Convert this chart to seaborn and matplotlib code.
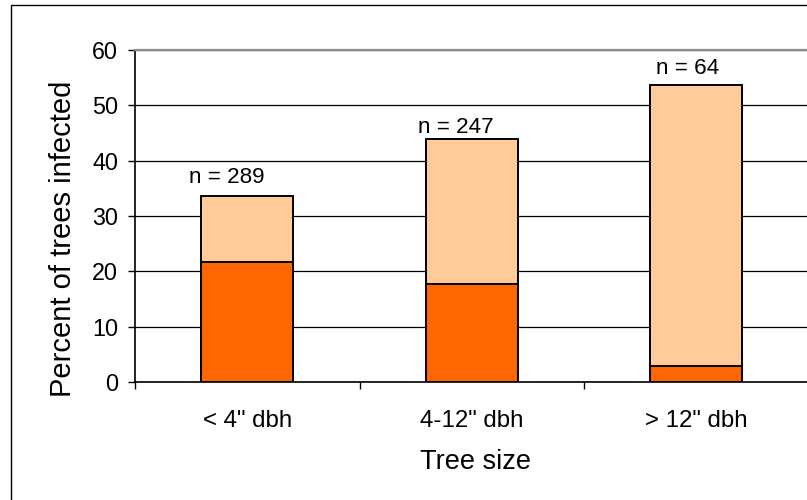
import matplotlib
matplotlib.use("Agg")
import matplotlib.pyplot as plt
from matplotlib.patches import Rectangle
import seaborn as sns
import pandas as pd

# ---- data ----
categories = ['< 4" dbh', '4-12" dbh', '> 12" dbh']
total_infected = [33.6, 43.9, 53.7]
lower_part = [21.7, 17.8, 2.9]
n_labels = ["n = 289", "n = 247", "n = 64"]
y_ticks = [0, 10, 20, 30, 40, 50, 60]

df = pd.DataFrame({"size": categories, "total": total_infected, "lower": lower_part})

sns.set_style("white")
plt.rcParams["font.family"] = ["Liberation Sans", "DejaVu Sans"]
plt.rcParams["text.color"] = "black"
plt.rcParams["axes.labelcolor"] = "black"
plt.rcParams["xtick.color"] = "black"
plt.rcParams["ytick.color"] = "black"

light = "#FFCC99"
dark = "#FF6600"

fig = plt.figure(figsize=(8.07, 5.0), dpi=100)
W, H = 807, 500
ax = fig.add_axes([135 / W, 1 - 382 / H, 673.5 / W, 332 / H])

sns.barplot(data=df, x="size", y="total", color=light, saturation=1, width=0.41,
            edgecolor="black", linewidth=1.4, errorbar=None, ax=ax, zorder=3)
sns.barplot(data=df, x="size", y="lower", color=dark, saturation=1, width=0.41,
            edgecolor="black", linewidth=1.4, errorbar=None, ax=ax, zorder=3)

ax.set_xlim(-0.5, 2.5)
ax.set_ylim(0, 60)
ax.set_yticks(y_ticks)
ax.set_yticklabels([str(v) for v in y_ticks])

ax.set_axisbelow(True)
ax.yaxis.grid(True, color="black", linewidth=0.9)
ax.xaxis.grid(False)

for side in ["left", "bottom"]:
    ax.spines[side].set_color("black")
    ax.spines[side].set_linewidth(1.2)
ax.spines["top"].set_color("#8c8c8c")
ax.spines["top"].set_linewidth(1.6)
ax.spines["right"].set_visible(False)

ax.tick_params(axis="y", which="major", direction="out", length=5, width=1,
               color="black", labelcolor="black", pad=7, labelsize=16.8, left=True)
ax.tick_params(axis="x", which="major", length=0, pad=20, labelsize=17.3,
               labelcolor="black")
ax.set_xticks([-0.5, 0.5, 1.5, 2.5], minor=True)
ax.tick_params(axis="x", which="minor", direction="out", length=5, width=1,
               color="black", bottom=True)

ax.set_xlabel("Tree size", fontsize=19.5, color="black")
ax.set_ylabel("Percent of trees infected", fontsize=21, color="black")
ax.yaxis.label.set_va("center")
ax.yaxis.set_label_coords((63 - 135) / 673.5, (382 - 239) / 332)
ax.xaxis.label.set_va("center")
ax.xaxis.set_label_coords((475 - 135) / 673.5, (382 - 462) / 332)

# n labels above bars
label_dx = [-20, -16, -9]
label_dy = [9.5, 4.5, 8]
for i, (lab, tot) in enumerate(zip(n_labels, total_infected)):
    ax.annotate(lab, xy=(i, tot), xytext=(label_dx[i] * 0.72, label_dy[i]),
                textcoords="offset points", ha="center", va="baseline",
                fontsize=16.2, color="black")

# outer chart border (left and top visible)
fig.patches.append(Rectangle((10.5 / W, -0.1), 1.2, 1 - 5 / H + 0.1,
                             transform=fig.transFigure, fill=False,
                             edgecolor="black", linewidth=1.0))

fig.savefig("out.png", dpi=100)
